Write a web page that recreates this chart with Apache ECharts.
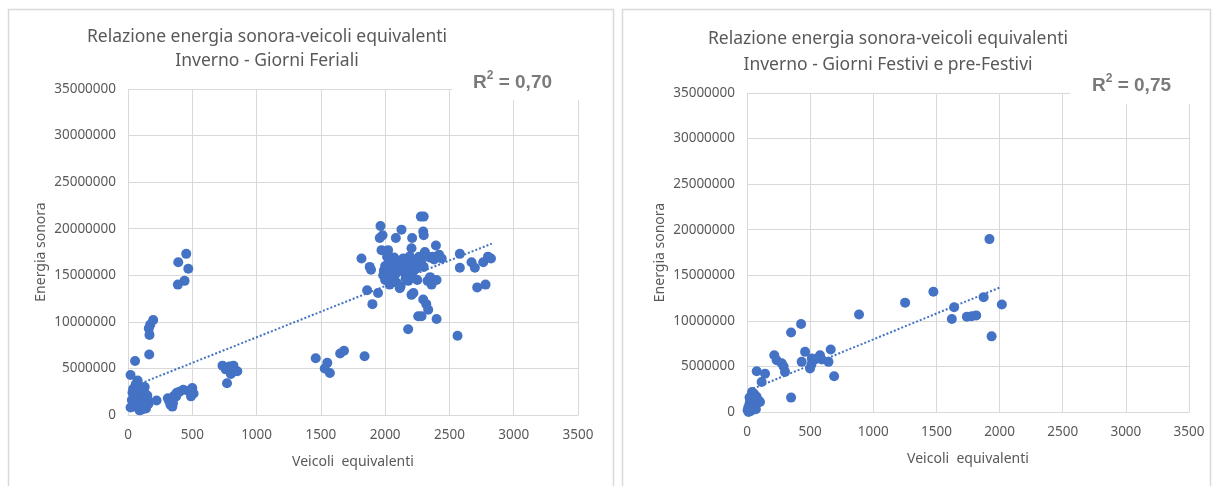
<!DOCTYPE html>
<html>
<head>
<meta charset="utf-8">
<script src="https://cdn.jsdelivr.net/npm/echarts@6/dist/echarts.min.js"></script>
<style>
html,body{margin:0;padding:0;background:#fff;}
#chart{width:1215px;height:486px;}
</style>
</head>
<body>
<div id="chart"></div>
<script>
// ---- Data ----
const titleLeft = 'Relazione energia sonora-veicoli equivalenti\nInverno - Giorni Feriali';
const titleRight = 'Relazione energia sonora-veicoli equivalenti\nInverno - Giorni Festivi e pre-Festivi';
const xName = 'Veicoli  equivalenti';
const yName = 'Energia sonora';
const r2Left = '0,70';
const r2Right = '0,75';

// Left chart: Giorni Feriali [veicoli equivalenti, energia sonora]
const ferialiPoints = [
  [20,4300000],[75,3700000],[60,3300000],[90,3000000],[40,2800000],[100,2500000],[130,2300000],
  [55,2200000],[80,2000000],[150,2100000],[110,1800000],[30,1600000],[70,1500000],[125,1400000],
  [160,1200000],[95,1100000],[45,900000],[20,800000],[140,700000],[110,600000],[85,900000],
  [60,1300000],[120,2700000],[150,1700000],[100,1000000],[35,2400000],[65,2600000],[130,3000000],
  [115,1200000],[90,500000],
  [55,5800000],[165,6500000],[222,1550000],
  [196,10200000],[173,9700000],[162,9300000],[167,8600000],
  [453,17300000],[391,16400000],[469,15700000],[440,14400000],[388,14000000],
  [310,1800000],[330,1100000],[345,900000],[320,1500000],[360,2100000],[375,2000000],[400,2500000],
  [430,2700000],[470,2600000],[500,2900000],[510,2300000],[490,2000000],[350,1300000],[380,2400000],
  [735,5300000],[760,4900000],[770,3400000],[790,5200000],[810,4600000],[830,4800000],[850,4700000],
  [800,4400000],[780,5000000],[820,5300000],
  [1460,6100000],[1530,5000000],[1550,5600000],[1570,4500000],[1650,6600000],[1680,6900000],[1840,6300000],
  [1816,16800000],[1860,13400000],[1880,15900000],[1890,15600000],[1901,11900000],[1945,13100000],
  [1964,20300000],[1980,19300000],[1958,19000000],[1972,17700000],[2023,17700000],[2127,19900000],
  [2083,19000000],[2278,21300000],[2300,21300000],[2296,19700000],[2300,19300000],[2210,19000000],
  [2395,18200000],[2205,12900000],[2220,13100000],[2296,12400000],[2320,11900000],[2335,11300000],
  [2257,10600000],[2283,10600000],[2400,10300000],[2179,9200000],[2563,8500000],[2581,17300000],
  [2581,15800000],[2672,16400000],[2698,15800000],[2763,16400000],[2823,16800000],[2800,17000000],
  [2716,13700000],[2781,14000000],
  [1990,15500000],[2000,16000000],[2010,15200000],[2020,14800000],[2030,16500000],[2040,15800000],
  [2050,14300000],[2060,15600000],[2070,16900000],[2080,15100000],[2000,14500000],[2015,17000000],
  [2045,15000000],[2090,14200000],[2100,16300000],[2110,15500000],[2120,13800000],[2130,15900000],
  [2140,16800000],[2150,15300000],[2160,14700000],[2170,16500000],[2180,15600000],[2190,17000000],
  [2200,16200000],[2210,14900000],[2225,16600000],[2240,15700000],[2250,14500000],[2265,17000000],
  [2280,16400000],[2300,15900000],[2315,17200000],[2330,14400000],[2345,16900000],[2360,14100000],
  [2370,17000000],[2380,16700000],[2400,14500000],[2420,17200000],[2440,16800000],[2350,14800000],
  [1985,15000000],[2035,14000000],[2180,14400000],[2205,17900000],[2192,17000000],[2309,17500000],
  [2114,13600000],[2166,14500000],[2361,14000000]
];
// Left trend line end points
const ferialiTrendX = [100, 2830];
const ferialiTrendY = [3400000, 18400000];

// Right chart: Giorni Festivi e pre-Festivi
const festiviPoints = [
  [5,200000],[10,500000],[15,300000],[20,900000],[25,1200000],[30,600000],[35,1800000],[40,1500000],
  [45,400000],[50,1100000],[55,2000000],[60,800000],[65,1400000],[70,300000],[75,1700000],[80,1000000],
  [85,1300000],[95,1200000],[103,1100000],[20,1600000],[40,2200000],[60,1600000],[30,100000],[12,0],
  [77,4470000],[143,4200000],[116,3300000],[216,6230000],[235,5680000],[275,5350000],[290,5000000],
  [301,4400000],[349,8730000],[428,9650000],[349,1580000],[460,6600000],[433,5500000],[513,5870000],
  [499,4770000],[510,5200000],[578,6230000],[592,5760000],[663,6860000],[645,5500000],[690,3920000],
  [540,5800000],[887,10700000],[1252,12000000],[1476,13200000],[1640,11500000],[1622,10200000],
  [1741,10450000],[1780,10500000],[1815,10600000],[1874,12600000],[1920,18970000],[2018,11800000],
  [1937,8300000]
];
const festiviTrendX = [20, 2010];
const festiviTrendY = [2400000, 13700000];

// Axis ranges / ticks
const xMin = 0, xMax = 3500, xStep = 500;
const yMin = 0, yMax = 35000000, yStep = 5000000;

// ---- Chart ----
const TXT = '#595959';
const GRID = '#d9d9d9';
const BLUE = '#4472C4';
const FONT = 'Noto Sans';
const plain = v => String(v);

function zipPts(xs, ys){ return xs.map((x,i)=>[x, ys[i]]); }

function xAxisCfg(idx){
  return {
    gridIndex: idx, type:'value', min:xMin, max:xMax, interval:xStep,
    name: xName, nameLocation:'middle', nameGap:40,
    nameTextStyle:{color:TXT, fontSize:14, fontFamily:FONT},
    axisLine:{show:true, lineStyle:{color:GRID}},
    axisTick:{show:false},
    axisLabel:{color:TXT, fontSize:13.5, fontFamily:FONT, margin:13, formatter:plain},
    splitLine:{show:true, lineStyle:{color:GRID}}
  };
}
function yAxisCfg(idx){
  return {
    gridIndex: idx, type:'value', min:yMin, max:yMax, interval:yStep,
    name: yName, nameLocation:'middle', nameGap:80,
    nameTextStyle:{color:TXT, fontSize:14, fontFamily:FONT},
    axisLine:{show:false},
    axisTick:{show:false},
    axisLabel:{color:TXT, fontSize:13.5, fontFamily:FONT, margin:12, formatter:plain},
    splitLine:{show:true, lineStyle:{color:GRID}}
  };
}

const r2Rich = {
  a:{fontSize:19, fontWeight:'bold', fontFamily:'"Liberation Sans", Arial, sans-serif', fill:'#7a7a7a', lineHeight:22, verticalAlign:'bottom'},
  s:{fontSize:12, fontWeight:'bold', fontFamily:'"Liberation Sans", Arial, sans-serif', fill:'#7a7a7a', lineHeight:13, verticalAlign:'top'}
};

const chart = echarts.init(document.getElementById('chart'), null, {renderer:'canvas'});
chart.setOption({
  backgroundColor:'#fff',
  animation:false,
  title:[
    {text:titleLeft, left:262, top:20, textAlign:'center',
     textStyle:{color:TXT, fontSize:17.5, fontWeight:'normal', fontFamily:FONT, lineHeight:24}},
    {text:titleRight, left:883, top:21, textAlign:'center',
     textStyle:{color:TXT, fontSize:17.5, fontWeight:'normal', fontFamily:FONT, lineHeight:26}}
  ],
  grid:[
    {left:128, top:89, width:450, height:326},
    {left:747, top:93, width:442, height:319}
  ],
  xAxis:[xAxisCfg(0), xAxisCfg(1)],
  yAxis:[yAxisCfg(0), yAxisCfg(1)],
  series:[
    {type:'scatter', xAxisIndex:0, yAxisIndex:0, data:ferialiPoints, symbolSize:10,
     itemStyle:{color:BLUE, opacity:1}, silent:true},
    {type:'line', xAxisIndex:0, yAxisIndex:0, data:zipPts(ferialiTrendX, ferialiTrendY),
     showSymbol:false, lineStyle:{color:BLUE, width:2, type:'dotted'}, z:3, silent:true},
    {type:'scatter', xAxisIndex:1, yAxisIndex:1, data:festiviPoints, symbolSize:10,
     itemStyle:{color:BLUE, opacity:1}, silent:true},
    {type:'line', xAxisIndex:1, yAxisIndex:1, data:zipPts(festiviTrendX, festiviTrendY),
     showSymbol:false, lineStyle:{color:BLUE, width:2, type:'dotted'}, z:3, silent:true}
  ],
  graphic:[
    {type:'rect', left:6, top:7, shape:{width:605, height:490}, style:{fill:'none', stroke:GRID, lineWidth:1.5}, z:-1},
    {type:'rect', left:620, top:7, shape:{width:588, height:490}, style:{fill:'none', stroke:GRID, lineWidth:1.5}, z:-1},
    {type:'rect', left:452, top:62, shape:{width:135, height:38}, style:{fill:'#fff'}, z:100},
    {type:'rect', left:1070, top:66, shape:{width:125, height:38}, style:{fill:'#fff'}, z:100},
    {type:'text', left:473, top:70, z:101,
     style:{text:'{a|R}{s|2}{a| = ' + r2Left + '}', rich:r2Rich}},
    {type:'text', left:1092, top:73, z:101,
     style:{text:'{a|R}{s|2}{a| = ' + r2Right + '}', rich:r2Rich}}
  ]
});
</script>
</body>
</html>
